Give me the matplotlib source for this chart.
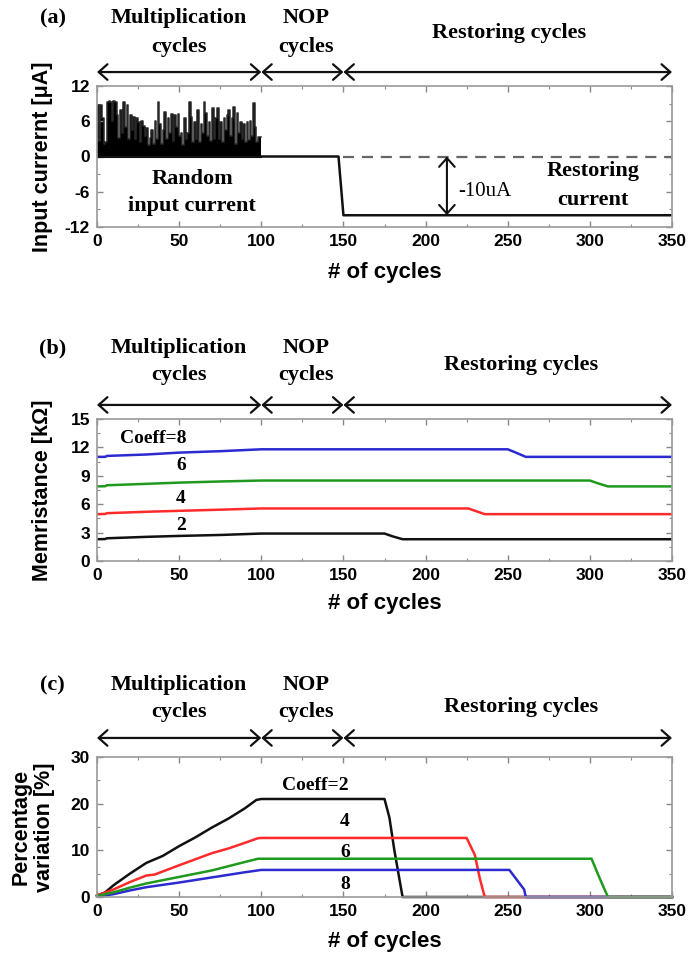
import numpy as np
import matplotlib
matplotlib.use('Agg')
import matplotlib.pyplot as plt
from matplotlib.ticker import MultipleLocator

plt.rcParams['axes.unicode_minus'] = False
plt.rcParams['font.family'] = ['Liberation Sans', 'DejaVu Sans']
plt.rcParams['font.weight'] = 'bold'

SERIF = ['Liberation Serif', 'DejaVu Serif']

# ---------------- data ----------------
phase_edges = [0, 100, 150, 350]
phase_names = ["Multiplication\ncycles", "NOP\ncycles", "Restoring cycles"]

# (a) random input current (uA), one value per multiplication cycle
random_current = [8.8, 2.6, 8.8, 6.5, 2.2, 2.4, 9.3, 9.4, 9.2, 6.0, 9.4, 9.3, 7.0, 3.2, 7.9, 4.0,
                  9.3, 5.0, 8.7, 3.0, 7.0, 4.5, 6.8, 3.0, 6.5, 5.8, 2.4, 6.0, 5.2, 3.5, 4.9, 2.0,
                  3.2, 4.5, 2.2, 6.0, 3.0, 9.3, 5.5, 2.2, 4.5, 7.6, 3.0, 6.5, 4.0, 7.2, 2.6, 7.0,
                  5.0, 7.3, 3.5, 4.0, 2.0, 6.5, 3.0, 4.0, 9.2, 6.8, 2.4, 5.8, 3.0, 8.0, 2.4, 5.5,
                  4.0, 9.2, 7.4, 3.5, 5.8, 2.6, 8.2, 3.0, 6.5, 8.3, 3.0, 5.8, 2.5, 6.5, 4.5, 7.0,
                  8.0, 3.5, 6.5, 8.4, 2.2, 7.4, 4.0, 5.9, 3.0, 5.5, 2.5, 5.8, 2.8, 6.0, 3.5, 9.1,
                  5.0, 2.5, 3.3, 3.3]
restore_x = [100, 147, 150, 350]
restore_y = [0, 0, -10, -10]
restore_level = -10

# (b) memristance (kOhm)
mem_coeffs = ["Coeff=8", "6", "4", "2"]
mem_colors = ['#2b2bd0', '#1f9a1f', '#ff2a2a', '#111111']
mem8_x = [0, 5, 6, 30, 50, 75, 100, 250, 255, 261, 350]
mem8_y = [11.0, 11.0, 11.1, 11.25, 11.45, 11.6, 11.8, 11.8, 11.45, 11.0, 11.0]
mem6_x = [0, 5, 6, 30, 50, 75, 100, 300, 305, 311, 350]
mem6_y = [7.88, 7.9, 8.0, 8.15, 8.28, 8.4, 8.5, 8.5, 8.2, 7.88, 7.88]
mem4_x = [0, 5, 6, 30, 50, 75, 100, 226, 231, 236, 350]
mem4_y = [4.95, 4.97, 5.05, 5.2, 5.3, 5.42, 5.55, 5.55, 5.25, 4.95, 4.95]
mem2_x = [0, 5, 6, 30, 50, 75, 100, 175, 180, 186, 350]
mem2_y = [2.3, 2.32, 2.4, 2.55, 2.65, 2.75, 2.9, 2.9, 2.6, 2.3, 2.3]

# (c) percentage variation (%)
pv2_x = [0, 5, 10, 20, 30, 40, 50, 60, 70, 80, 90, 97, 100, 175, 178, 181, 184, 186, 350]
pv2_y = [0.3, 1.0, 2.5, 5.0, 7.3, 8.8, 10.9, 12.8, 14.9, 16.8, 19.0, 20.8, 21.0, 21.0, 17.0, 10.0, 4.0, 0.0, 0.0]
pv4_x = [0, 10, 20, 30, 35, 50, 70, 80, 90, 98, 100, 225, 230, 233, 236, 350]
pv4_y = [0.3, 1.6, 3.2, 4.6, 4.8, 6.8, 9.4, 10.4, 11.6, 12.6, 12.65, 12.65, 9.0, 4.0, 0.0, 0.0]
pv6_x = [0, 10, 20, 30, 50, 70, 80, 90, 98, 100, 301, 306, 311, 350]
pv6_y = [0.2, 1.0, 2.0, 2.9, 4.3, 5.7, 6.6, 7.5, 8.2, 8.2, 8.2, 4.0, 0.0, 0.0]
pv8_x = [0, 10, 20, 30, 50, 70, 90, 100, 251, 260, 261, 350]
pv8_y = [0.1, 0.6, 1.4, 2.1, 3.1, 4.2, 5.3, 5.8, 5.8, 1.6, 0.0, 0.0]
pv_labels = ["Coeff=2", "4", "6", "8"]

# ---------------- figure ----------------
W, H = 688, 957
fig = plt.figure(figsize=(W / 100, H / 100), dpi=100)
LEFT, RIGHT = 97, 672


def add_ax(top_px, bottom_px):
    return fig.add_axes([LEFT / W, 1 - bottom_px / H, (RIGHT - LEFT) / W, (bottom_px - top_px) / H])


def style(ax, ylim, ymaj, ymin):
    ax.set_xlim(0, 350)
    ax.set_ylim(*ylim)
    ax.xaxis.set_major_locator(MultipleLocator(50))
    ax.xaxis.set_minor_locator(MultipleLocator(25))
    ax.yaxis.set_major_locator(MultipleLocator(ymaj))
    ax.yaxis.set_minor_locator(MultipleLocator(ymin))
    ax.tick_params(which='both', direction='in', top=True, right=True, color='#888888')
    ax.tick_params(which='major', length=4, width=1, labelsize=12.5, pad=5)
    ax.tick_params(which='minor', length=2.5, width=0.8)
    for s in ax.spines.values():
        s.set_color('#9a9a9a')
        s.set_linewidth(1.2)


def header(ax, tag, y1, y2, yr, ya, xr):
    T = ax.get_xaxis_transform()
    kw = dict(transform=T, ha='center', va='center', family=SERIF, fontsize=16,
              fontweight='bold', clip_on=False)
    ax.text(-27, y1, tag, **kw)
    ax.text((phase_edges[0] + phase_edges[1]) / 2, y1, phase_names[0].split('\n')[0], **kw)
    ax.text((phase_edges[0] + phase_edges[1]) / 2, y2, phase_names[0].split('\n')[1], **kw)
    ax.text(127, y1, phase_names[1].split('\n')[0], **kw)
    ax.text(127, y2, phase_names[1].split('\n')[1], **kw)
    ax.text(xr, yr, phase_names[2], **kw)
    for a, b in zip(phase_edges[:-1], phase_edges[1:]):
        ax.annotate('', xy=(b, ya), xytext=(a, ya), xycoords=T, textcoords=T,
                    arrowprops=dict(arrowstyle='<->,head_length=0.45,head_width=0.4',
                                    lw=1.6, color='#111111', shrinkA=0, shrinkB=0,
                                    mutation_scale=14),
                    annotation_clip=False)


def ylab(text, x_px, ax_top, ax_bot, **kw):
    fig.text(x_px / W, 1 - (ax_top + ax_bot) / 2 / H, text, rotation=90, ha='center',
             va='center', fontsize=15.5, fontweight='bold', **kw)


def xlab(y_px):
    fig.text((LEFT + RIGHT) / 2 / W, 1 - y_px / H, '# of cycles', ha='center', va='center',
             fontsize=16, fontweight='bold')


# ---------- (a) ----------
axa = add_ax(86, 227)
style(axa, (-12, 12), 6, 3)
xr = np.arange(len(random_current) + 1)
yr = list(random_current) + [random_current[-1]]
axa.fill_between(xr, 0, yr, step='post', color='black', linewidth=0)
axa.step(xr, yr, where='post', color='#2a2a2a', lw=1.1)
axa.plot(restore_x, restore_y, color='#111111', lw=1.8)
axa.plot([0, 100], [0, 0], color='#111111', lw=1.5)
axa.plot([150, 350], [0, 0], color='#666666', lw=1.6, dashes=(5, 3.5))
axa.annotate('', xy=(213, restore_level), xytext=(213, 0),
             arrowprops=dict(arrowstyle='<->,head_length=0.45,head_width=0.4', lw=1.5,
                             color='#111111', shrinkA=0, shrinkB=0, mutation_scale=14))
axa.text(220, -6.0, '-10uA', family=SERIF, fontweight='normal', fontsize=15, ha='left', va='center')
axa.text(58, -3.9, 'Random', family=SERIF, fontweight='bold', fontsize=16, ha='center', va='center')
axa.text(58, -8.5, 'input current', family=SERIF, fontweight='bold', fontsize=16, ha='center', va='center')
axa.text(302, -2.5, 'Restoring', family=SERIF, fontweight='bold', fontsize=16, ha='center', va='center')
axa.text(302, -7.4, 'current', family=SERIF, fontweight='bold', fontsize=16, ha='center', va='center')
header(axa, '(a)', 1.482, 1.277, 1.376, 1.099, 251)
ylab('Input currernt [μA]', 43, 86, 227)
xlab(272)

# ---------- (b) ----------
axb = add_ax(419, 561)
style(axb, (0, 15), 3, 1.5)
for xs, ys, c in zip([mem8_x, mem6_x, mem4_x, mem2_x], [mem8_y, mem6_y, mem4_y, mem2_y], mem_colors):
    axb.plot(xs, ys, color=c, lw=1.8)
for lab, (lx, ly) in zip(mem_coeffs, [(34, 12.9), (51, 10.1), (51, 6.65), (51, 3.7)]):
    axb.text(lx, ly, lab, family=SERIF, fontweight='bold', fontsize=14, ha='center', va='center')
header(axb, '(b)', 1.50, 1.31, 1.38, 1.099, 258)
ylab('Memristance [kΩ]', 43, 419, 561)
xlab(603)

# ---------- (c) ----------
axc = add_ax(757, 897)
style(axc, (0, 30), 10, 5)
pv_series = [(pv2_x, pv2_y, '#111111'), (pv4_x, pv4_y, '#ff2a2a'),
             (pv8_x, pv8_y, '#2b2bd0'), (pv6_x, pv6_y, '#1f9a1f')]
for xs, ys, c in pv_series:
    axc.plot(xs, ys, color=c, lw=1.8, clip_on=False)
for lab, (lx, ly) in zip(pv_labels, [(133, 24.0), (151, 16.1), (151, 9.5), (151, 2.6)]):
    axc.text(lx, ly, lab, family=SERIF, fontweight='bold', fontsize=14, ha='center', va='center')
header(axc, '(c)', 1.514, 1.321, 1.357, 1.136, 258)
ylab('Percentage\nvariation [%]', 33, 757, 897, linespacing=1.15)
xlab(942)

fig.savefig('out.png', dpi=100)
